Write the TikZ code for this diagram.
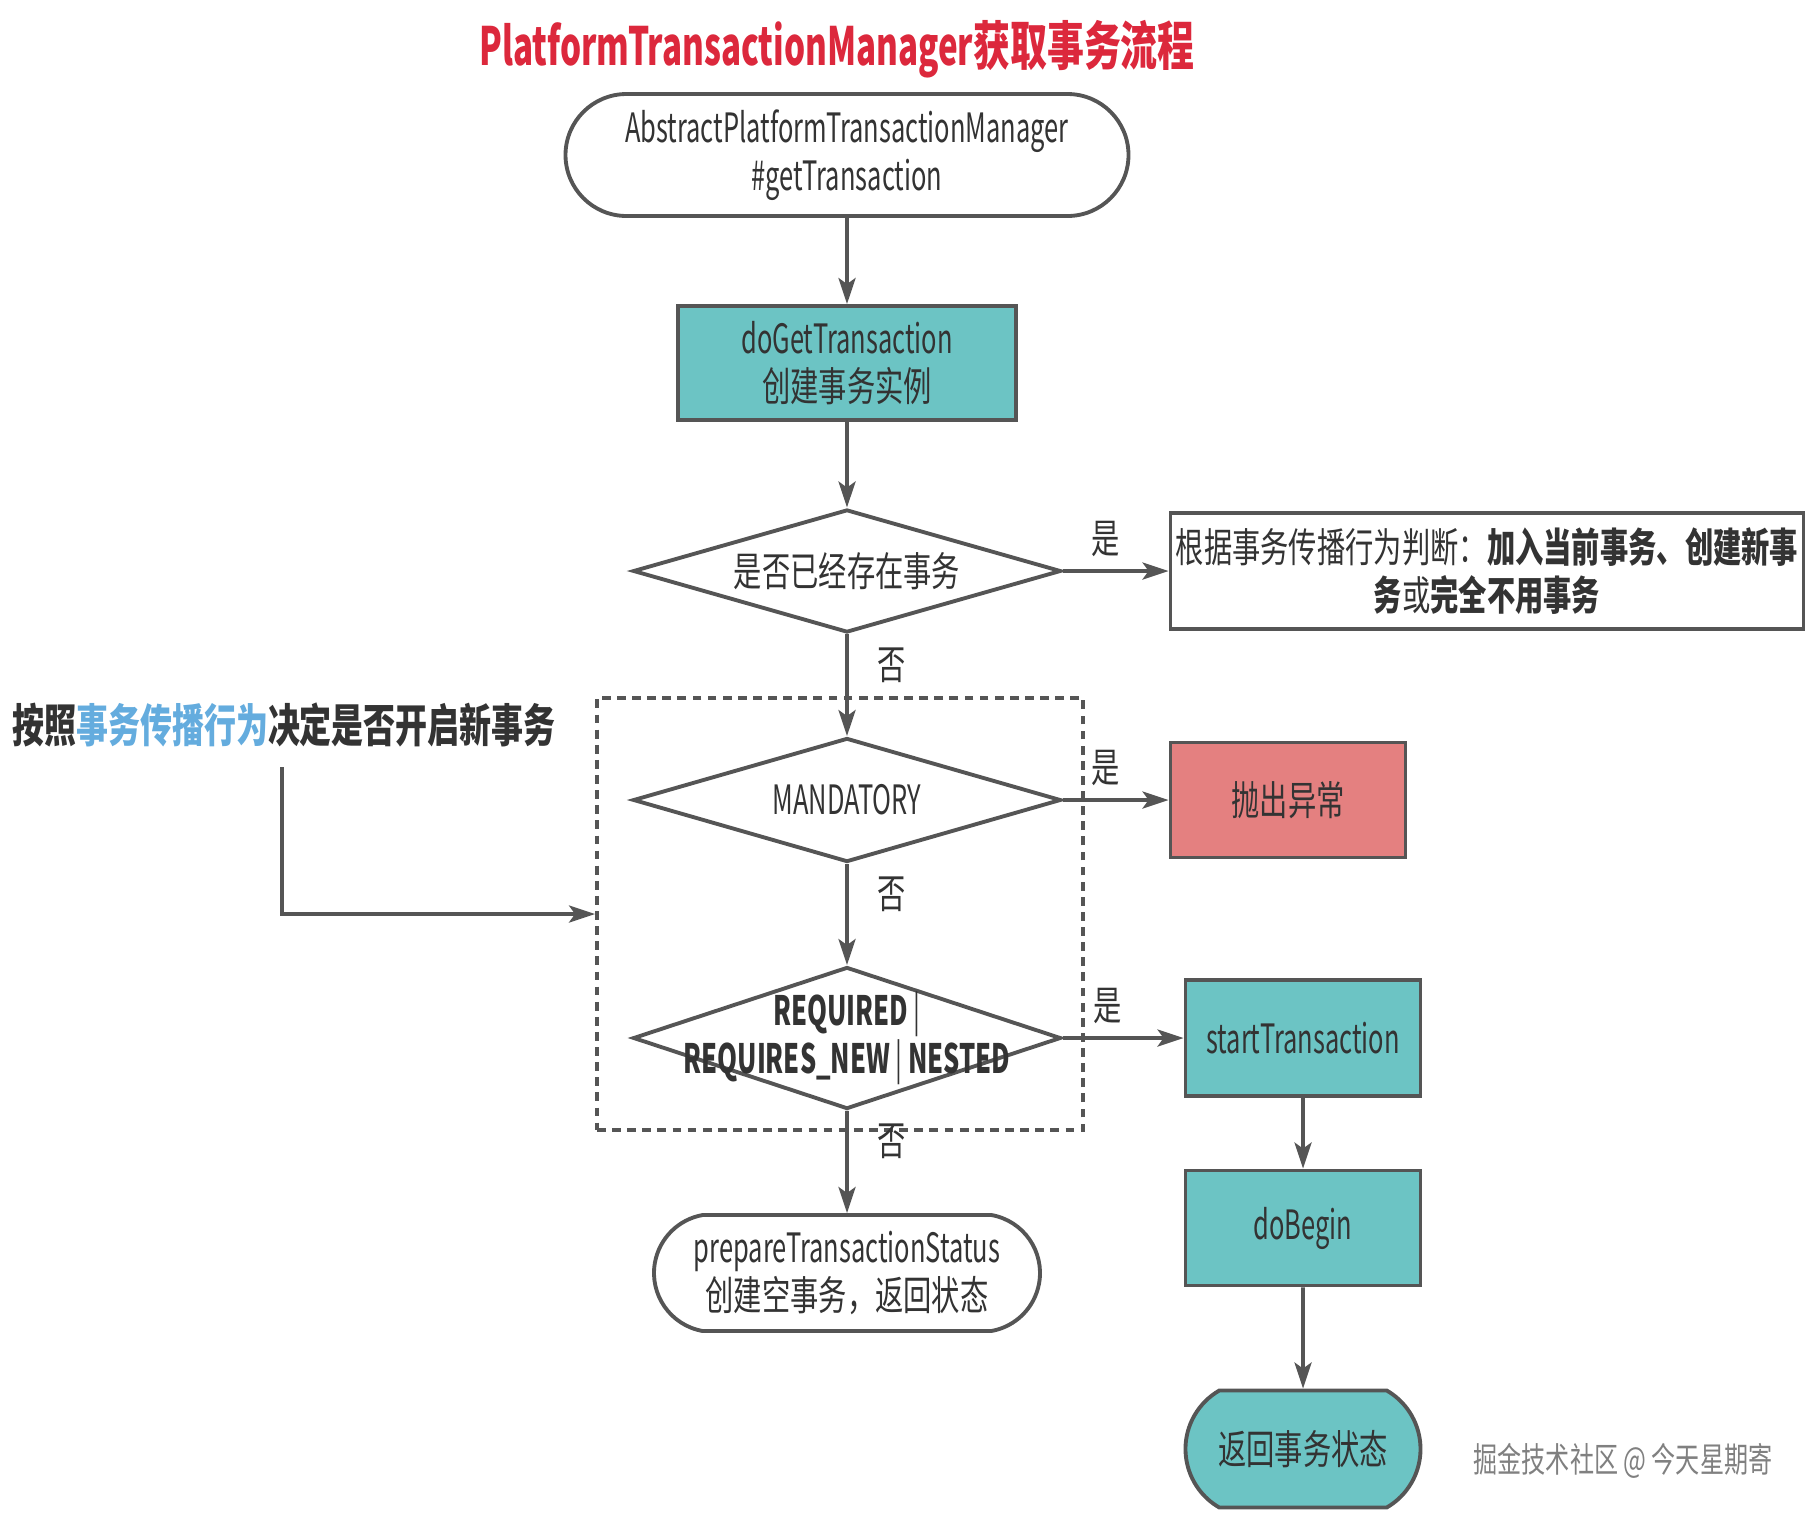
\documentclass[tikz,border=0pt]{standalone}
\usepackage{fontspec}
\setmainfont[FakeStretch=0.7]{Noto Sans CJK SC}
\newfontfamily\latinfont[FakeStretch=0.63]{Noto Sans CJK SC}
\usetikzlibrary{shapes.geometric,shapes.misc,arrows.meta}

\definecolor{linegray}{RGB}{85,85,85}
\definecolor{tealfill}{RGB}{108,196,196}
\definecolor{redfill}{RGB}{228,128,128}
\definecolor{titlered}{RGB}{220,40,60}
\definecolor{hintblue}{RGB}{100,172,222}
\definecolor{textgray}{RGB}{51,51,51}

\tikzset{
	every node/.style={text=textgray},
	boxbase/.style={draw=linegray, line width=1.1pt, inner sep=0pt, font=\fontsize{11.5}{13.6}\selectfont, align=center},
	term/.style={boxbase, rounded rectangle, fill=white},
	proc/.style={boxbase, rectangle, fill=white},
	tealbox/.style={proc, fill=tealfill},
	dec/.style={boxbase, diamond, aspect=3.4, fill=white},
	scopebox/.style={draw=linegray, line width=1.1pt, dash pattern=on 2.5pt off 1.8pt, inner sep=0pt},
	flow/.style={->, draw=linegray, line width=1.1pt},
	tag/.style={font=\fontsize{11.5}{13.6}\selectfont, inner sep=1pt},
	>={Stealth[length=2.6mm,width=1.7mm,inset=0.6mm]}
}

\begin{document}
\begin{tikzpicture}
	\useasboundingbox (0,0) rectangle (18.15,-15.12);

	% Title
	\node[font=\fontsize{15}{18}\selectfont\bfseries, text=titlered] (title) at (8.37,-0.49) {{\latinfont PlatformTransactionManager}获取事务流程};

	% Propagation scope
	\node[scopebox, minimum width=4.86cm, minimum height=4.32cm] (scope) at (8.40,-9.14) {};

	% Main column
	\node[term, minimum width=5.63cm, minimum height=1.22cm] (start) at (8.47,-1.55) {\latinfont AbstractPlatformTransactionManager\\\latinfont\#getTransaction};
	\node[tealbox, minimum width=3.38cm, minimum height=1.14cm] (getTx) at (8.47,-3.63) {{\latinfont doGetTransaction}\\创建事务实例};
	\node[dec, minimum width=4.28cm, minimum height=1.23cm] (exist) at (8.47,-5.71) {是否已经存在事务};
	\node[dec, minimum width=4.28cm, minimum height=1.24cm] (mand) at (8.47,-8.00) {\latinfont MANDATORY};
	\node[dec, minimum width=4.28cm, minimum height=1.42cm] (req) at (8.47,-10.38) {};
	\node[tag, align=center, font=\fontsize{11.5}{13.6}\latinfont] (reqtext) at (req) {\textbf{REQUIRED} |\\\textbf{REQUIRES\_NEW} | \textbf{NESTED}};
	\node[term, minimum width=3.86cm, minimum height=1.16cm, rounded rectangle arc length=160] (prepare) at (8.47,-12.73) {{\latinfont prepareTransactionStatus}\\创建空事务，返回状态};

	% Right column
	\node[proc, minimum width=6.33cm, minimum height=1.16cm] (join) at (14.87,-5.71) {根据事务传播行为判断：\textbf{加入当前事务、创建新事}\\\textbf{务}或\textbf{完全不用事务}};
	\node[proc, fill=redfill, minimum width=2.35cm, minimum height=1.15cm] (throw) at (12.88,-8.00) {抛出异常};
	\node[tealbox, minimum width=2.35cm, minimum height=1.16cm] (startTx) at (13.03,-10.38) {\latinfont startTransaction};
	\node[tealbox, minimum width=2.35cm, minimum height=1.15cm] (doBegin) at (13.03,-12.28) {\latinfont doBegin};
	\node[term, fill=tealfill, minimum width=2.35cm, minimum height=1.17cm, rounded rectangle arc length=120] (status) at (13.03,-14.49) {返回事务状态};

	% Left note
	\node[font=\fontsize{13}{16}\selectfont\bfseries] (hint) at (2.84,-7.25) {按照\textcolor{hintblue}{事务传播行为}决定是否开启新事务};
	\coordinate (hintfoot) at (2.82,-7.67);
	\draw[flow] (hintfoot) |- (scope.west);

	% Connectors
	\draw[flow] (start) -- (getTx);
	\draw[flow] (getTx) -- (exist);
	\draw[flow] (exist) -- node[tag, pos=0.4, above=0.09cm] (yes1) {是} (join);
	\draw[flow] (exist) -- node[tag, pos=0.3, right=0.25cm] (no1) {否} (mand);
	\draw[flow] (mand) -- node[tag, pos=0.4, above=0.09cm] (yes2) {是} (throw);
	\draw[flow] (mand) -- node[tag, pos=0.3, right=0.25cm] (no2) {否} (req);
	\draw[flow] (req) -- node[tag, pos=0.37, above=0.09cm] (yes3) {是} (startTx);
	\draw[flow] (req) -- node[tag, pos=0.3, right=0.25cm] (no3) {否} (prepare);
	\draw[flow] (startTx) -- (doBegin);
	\draw[flow] (doBegin) -- (status);

	% Watermark
	\node[font=\fontsize{9.8}{11}\selectfont, text=gray] (mark) at (16.23,-14.61) {掘金技术社区 @ 今天星期寄};

\end{tikzpicture}
\end{document}
